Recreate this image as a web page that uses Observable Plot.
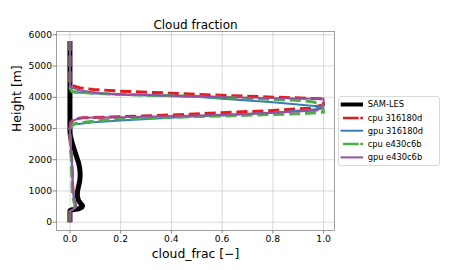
<!DOCTYPE html>
<html><head><meta charset="utf-8">
<script src="https://cdn.jsdelivr.net/npm/d3@7"></script>
<script src="https://cdn.jsdelivr.net/npm/@observablehq/plot@0.6"></script>
<style>
body{margin:0;background:#fff;font-family:"DejaVu Sans",sans-serif;}
#wrap{position:relative;width:450px;height:270px;}
#legend{position:absolute;left:338px;top:96px;width:102px;height:70px;border:1px solid #d9d9d9;border-radius:3px;background:#fff;box-sizing:border-box;}
</style></head><body><div id="wrap"></div>
<script>
// ---- data ----
const titleText = "Cloud fraction";
const xLabel = "cloud_frac [\u2212]";
const yLabel = "Height [m]";
const xTicks = [0, 0.2, 0.4, 0.6, 0.8, 1.0];
const yTicks = [0, 1000, 2000, 3000, 4000, 5000, 6000];

const seriesNames = ["SAM-LES", "cpu 316180d", "gpu 316180d", "cpu e430c6b", "gpu e430c6b"];
const seriesColors = ["#000000", "#e41a1c", "#377eb8", "#4daf4a", "#984ea3"];

const samHeight = [0, 370, 400, 430, 480, 530, 600, 700, 850, 1000, 1150, 1300, 1450, 1600, 1750, 1900, 2050, 2200, 2350, 2500, 2650, 2800, 3000, 4000, 5000, 5800];
const samFrac   = [0, 0, 0.01, 0.035, 0.047, 0.05, 0.042, 0.033, 0.029, 0.03, 0.034, 0.038, 0.04, 0.04, 0.038, 0.034, 0.028, 0.022, 0.016, 0.01, 0.005, 0.001, 0, 0, 0, 0];

const cpu316Height = [0, 350, 380, 420, 480, 540, 650, 800, 1000, 1300, 1600, 2000, 2300, 2600, 2800, 3000, 3200, 3300, 3340, 3375, 3460, 3503, 3577, 3650, 3759, 3950, 4004, 4089, 4132, 4196, 4249, 4300, 4377, 4450, 5000, 5800];
const cpu316Frac   = [0, 0, 0.004, 0.013, 0.02, 0.022, 0.018, 0.015, 0.012, 0.01, 0.009, 0.007, 0.004, 0.001, 0, 0, 0.002, 0.015, 0.05, 0.2, 0.49, 0.6, 0.8, 0.947, 1.0, 1.0, 0.8, 0.5, 0.395, 0.2, 0.093, 0.04, 0.008, 0, 0, 0];

const gpu316Height = [0, 350, 380, 420, 480, 540, 650, 800, 1000, 1300, 1600, 2000, 2300, 2600, 2800, 3000, 3118, 3202, 3257, 3394, 3417, 3503, 3631, 3670, 3715, 3843, 3950, 4004, 4014, 4078, 4164, 4250, 5000, 5800];
const gpu316Frac   = [0, 0, 0.005, 0.014, 0.022, 0.024, 0.019, 0.015, 0.012, 0.01, 0.009, 0.007, 0.004, 0.001, 0, 0, 0.008, 0.093, 0.2, 0.5, 0.6, 0.8, 0.99, 1.0, 0.974, 0.8, 0.6, 0.514, 0.487, 0.2, 0.008, 0, 0, 0];

const cpuE43Height = [0, 350, 380, 420, 480, 540, 650, 800, 1000, 1300, 1600, 2000, 2300, 2600, 2800, 3000, 3150, 3235, 3310, 3380, 3400, 3449, 3471, 3522, 3737, 3850, 3897, 3929, 4025, 4089, 4150, 4185, 4300, 5000, 5800];
const cpuE43Frac   = [0, 0, 0.004, 0.012, 0.018, 0.02, 0.016, 0.012, 0.009, 0.008, 0.007, 0.006, 0.004, 0.001, 0, 0, 0.015, 0.093, 0.2, 0.5, 0.6, 0.8, 0.908, 1.0, 0.995, 0.96, 0.908, 0.8, 0.51, 0.2, 0.05, 0.008, 0, 0, 0];

const gpuE43Height = [0, 350, 380, 420, 480, 540, 650, 800, 1000, 1300, 1600, 2000, 2300, 2600, 2800, 3000, 3150, 3257, 3342, 3363, 3417, 3439, 3503, 3577, 3737, 3950, 3972, 4004, 4036, 4100, 4132, 4217, 4300, 4377, 4500, 5000, 5800];
const gpuE43Frac   = [0, 0, 0.005, 0.015, 0.023, 0.025, 0.02, 0.016, 0.013, 0.011, 0.01, 0.008, 0.005, 0.002, 0, 0, 0.001, 0.014, 0.041, 0.2, 0.51, 0.6, 0.8, 0.974, 1.0, 1.0, 0.8, 0.6, 0.5, 0.2, 0.12, 0.041, 0.012, 0.001, 0, 0, 0];

// ---- build ----
const heights = [samHeight, cpu316Height, gpu316Height, cpuE43Height, gpuE43Height];
const fracs = [samFrac, cpu316Frac, gpu316Frac, cpuE43Frac, gpuE43Frac];
const styles = [
  {strokeWidth: 5, dash: null, cap: "butt"},
  {strokeWidth: 3, dash: "11.1,4.8", cap: "butt"},
  {strokeWidth: 2, dash: null, cap: "butt"},
  {strokeWidth: 3, dash: "11.1,4.8", cap: "butt"},
  {strokeWidth: 2, dash: null, cap: "butt"}
];
const tables = seriesNames.map((name, i) => heights[i].map((h, j) => ({name, h, v: fracs[i][j]})));

const marks = [
  Plot.gridX(xTicks, {stroke: "#b0b0b0", strokeOpacity: 0.6, strokeWidth: 0.8}),
  Plot.gridY(yTicks, {stroke: "#b0b0b0", strokeOpacity: 0.6, strokeWidth: 0.8}),
  ...tables.map((t, i) => Plot.line(t, {
    x: "v", y: "h", stroke: seriesColors[i], strokeWidth: styles[i].strokeWidth,
    strokeDasharray: styles[i].dash, strokeLinecap: styles[i].cap, strokeLinejoin: "round", curve: "linear"
  })),
  Plot.frame({stroke: "#888", strokeWidth: 0.8}),
  Plot.axisX({ticks: xTicks, tickFormat: d3.format(".1f"), tickSize: 3.5, tickPadding: 1.5, fontSize: 9.2, stroke: "#888", label: null}),
  Plot.axisY({ticks: yTicks, tickFormat: d3.format("d"), tickSize: 3.5, tickPadding: 1, fontSize: 9.2, stroke: "#888", label: null}),
  Plot.text([titleText], {frameAnchor: "top", lineAnchor: "middle", dy: -6, text: d => d, fontSize: 12, fill: "#000"}),
  Plot.text([xLabel], {frameAnchor: "bottom", lineAnchor: "middle", dy: 24, text: d => d, fontSize: 12.4, fill: "#000"}),
  Plot.text([yLabel], {frameAnchor: "left", lineAnchor: "middle", dx: -39.6, dy: 1, rotate: -90, text: d => d, fontSize: 12.4, fill: "#000"})
];

const chart = Plot.plot({
  width: 450, height: 270,
  marginLeft: 56, marginRight: 116, marginTop: 31, marginBottom: 40,
  x: {domain: [-0.053, 1.043]},
  y: {domain: [-266, 6105]},
  style: {fontFamily: "DejaVu Sans, sans-serif", color: "#000", background: "#fff", overflow: "visible"},
  marks
});
const wrap = document.getElementById("wrap");
wrap.appendChild(chart);

// ---- legend ----
const leg = document.createElement("div");
leg.id = "legend";
wrap.appendChild(leg);
const lsvg = d3.select(leg).append("svg").attr("width", 100).attr("height", 68).style("display", "block");
const rowY = [7.5, 21, 33.7, 47, 60.4];
const handleDash = [null, "15.7,1.6", null, "15.7,1.6", null];
const handleX0 = [1.7, 4, 1.7, 4, 1.7];
const handleW = [4, 2.5, 2, 2.5, 2];
seriesNames.forEach((name, i) => {
  lsvg.append("line").attr("x1", handleX0[i]).attr("x2", 24).attr("y1", rowY[i]).attr("y2", rowY[i])
    .attr("stroke", seriesColors[i]).attr("stroke-width", handleW[i])
    .attr("stroke-dasharray", handleDash[i]);
  lsvg.append("text").attr("x", 28.7).attr("y", rowY[i]).attr("dy", "0.35em")
    .attr("font-size", 8.3).attr("font-family", "DejaVu Sans, sans-serif").attr("fill", "#000").text(name);
});
</script></body></html>
